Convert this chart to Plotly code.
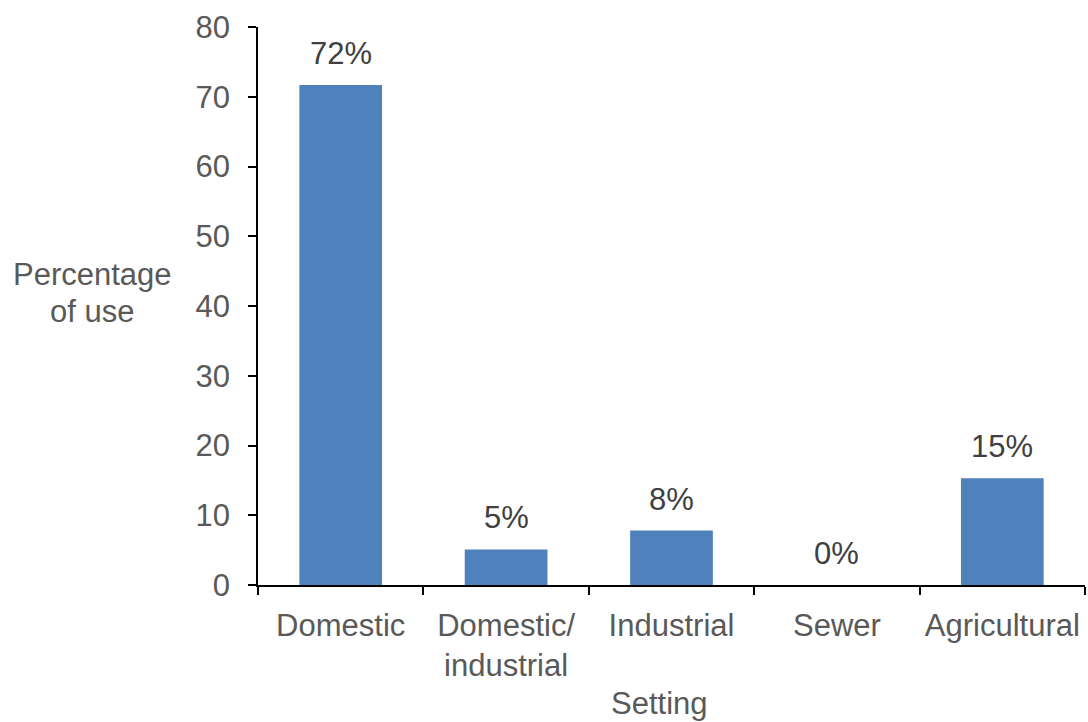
import plotly.graph_objects as go

settings = ["Domestic", "Domestic/<br>industrial", "Industrial", "Sewer", "Agricultural"]
percent_use = [71.7, 5.1, 7.8, 0.0, 15.3]
y_ticks = [0, 10, 20, 30, 40, 50, 60, 70, 80]

FONT = "Liberation Sans, Arial, sans-serif"
TICK_GREY = "#595959"
LABEL_GREY = "#404040"
FS = 31

fig = go.Figure()
fig.add_trace(go.Bar(
    x=settings,
    y=percent_use,
    width=0.5,
    marker=dict(color="#4F81BD", line=dict(width=0)),
    hoverinfo="skip",
))

# percentage labels above each bar
for cat, val in zip(settings, percent_use):
    fig.add_annotation(
        x=cat, y=val, text=f"{val:.0f}%",
        showarrow=False, yanchor="bottom", yshift=12,
        font=dict(family=FONT, size=FS, color=LABEL_GREY),
    )

# y-axis title, horizontal, two lines left of the tick labels
for line, ypos in (("Percentage", 0.5556), ("of use", 0.491)):
    fig.add_annotation(
        xref="paper", yref="paper", x=-0.2007, y=ypos,
        text=line, showarrow=False,
        xanchor="center", yanchor="middle",
        font=dict(family=FONT, size=FS, color=TICK_GREY),
    )

# x-axis title, sitting at the bottom edge of the figure
fig.add_annotation(
    xref="paper", yref="paper", x=0.486, y=-0.2455,
    text="Setting", showarrow=False,
    xanchor="center", yanchor="bottom", borderpad=0,
    font=dict(family=FONT, size=FS, color=TICK_GREY),
)

fig.update_layout(
    width=1088, height=722,
    margin=dict(l=258, r=3, t=27, b=137),
    paper_bgcolor="white", plot_bgcolor="white",
    showlegend=False,
    font=dict(family=FONT, size=FS, color=TICK_GREY),
    xaxis=dict(
        showline=True, linecolor="black", linewidth=1.5,
        ticks="outside", tickson="boundaries", ticklen=8, tickcolor="black", tickwidth=1.5,
        tickfont=dict(size=FS, color=TICK_GREY), ticklabelstandoff=12, tickangle=0,
        showgrid=False, automargin=False,
    ),
    yaxis=dict(
        range=[0, 80], tickvals=y_ticks,
        showline=True, linecolor="black", linewidth=1.5,
        ticks="outside", ticklen=8, tickcolor="black", tickwidth=1.5,
        tickfont=dict(size=FS, color=TICK_GREY), ticklabelstandoff=12,
        showgrid=False, zeroline=False, automargin=False,
    ),
)

fig.write_html("out.html")
